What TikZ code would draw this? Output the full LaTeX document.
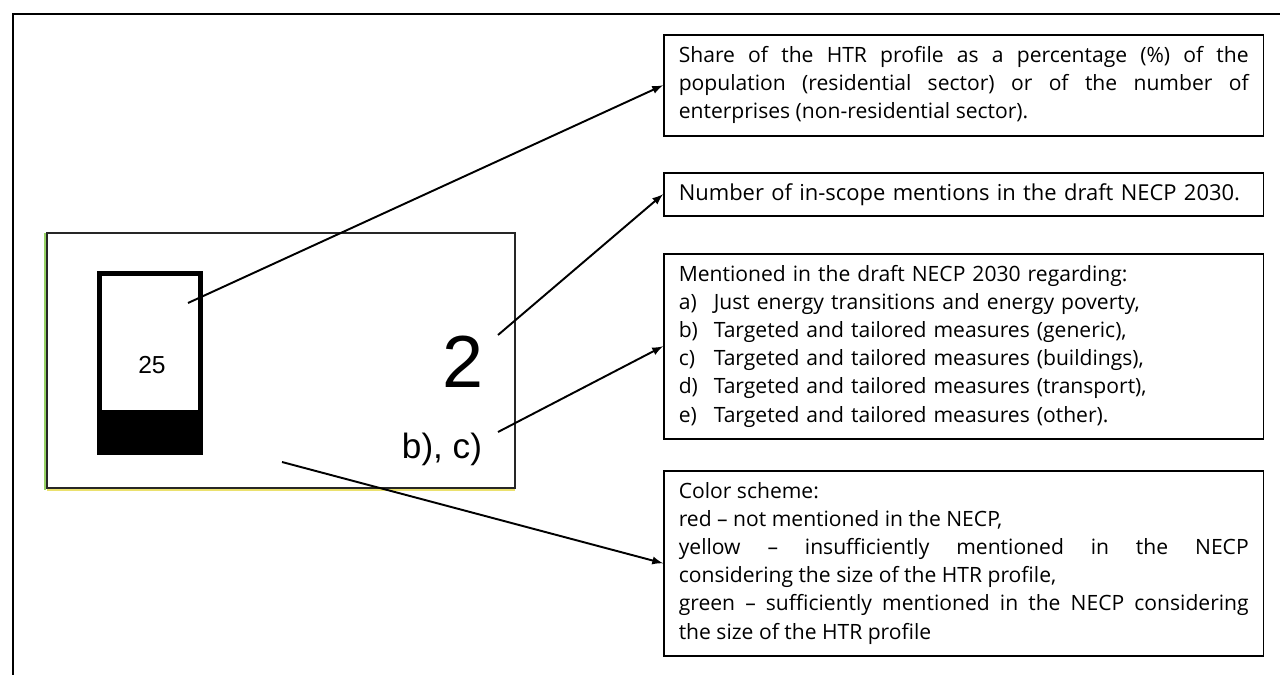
\documentclass[tikz,border=0pt]{standalone}
\usepackage{fontspec}
\setmainfont{Open Sans}
\newfontfamily\arialfont{Liberation Sans}
\setlength{\parindent}{0pt}
\definecolor{tilegreen}{RGB}{150,210,100}
\definecolor{tileyellow}{RGB}{235,225,110}

\begin{document}
\begin{tikzpicture}[x=0.02cm,y=-0.02cm,
  infobox/.style={draw,line width=0.9pt,anchor=north west,inner xsep=0.3cm,inner ysep=0pt,
    text width=11.4cm,font=\fontsize{12}{16}\selectfont},
  pointer/.style={->,>=latex,line width=1.1pt}]
\useasboundingbox (0,0) rectangle (1280,675);

% outer frame
\draw[line width=1.7pt] (1280,14) -- (13,14) -- (13,675);

% profile tile
\draw[tilegreen,line width=0.6pt] (45,233) -- (45,490);
\draw[tileyellow,line width=0.6pt] (47,490) -- (515,490);
\draw[line width=1.4pt,black!85] (47,233) rectangle (515,488);
\draw[line width=2.8pt] (99.5,273.5) rectangle (200.5,452.5);
\fill (97,410) rectangle (203,455);
\node (pct) at (152,365) {\arialfont\fontsize{14}{14}\selectfont 25};
\node (count) at (463,362) {\arialfont\fontsize{42}{42}\selectfont 2};
\node (cats) at (442,449) {\arialfont\fontsize{20}{20}\selectfont b), c)};

\coordinate (pctpt) at (188,303);
\coordinate (countpt) at (498,335);
\coordinate (catspt) at (498,432);
\coordinate (colpt) at (282,462);

% explanation boxes
\node[infobox,align=justify,minimum height=2.02cm] (sharebox) at (663,34)
  {Share of the HTR profile as a percentage (\%) of the\linebreak
   population (residential sector) or of the number of\linebreak
   enterprises (non-residential sector).};
\node[infobox,align=left,minimum height=0.86cm,font=\fontsize{12.5}{16}\selectfont] (countbox) at (663,172)
  {Number of in-scope mentions in the draft NECP 2030.};
\node[infobox,align=left,minimum height=3.7cm] (catsbox) at (663,253)
  {Mentioned in the draft NECP 2030 regarding:\\
   \makebox[0.7cm][l]{a)}Just energy transitions and energy poverty,\\
   \makebox[0.7cm][l]{b)}Targeted and tailored measures (generic),\\
   \makebox[0.7cm][l]{c)}Targeted and tailored measures (buildings),\\
   \makebox[0.7cm][l]{d)}Targeted and tailored measures (transport),\\
   \makebox[0.7cm][l]{e)}Targeted and tailored measures (other).};
\node[infobox,align=justify,minimum height=3.7cm] (colbox) at (663,470)
  {Color scheme:\\
   red – not mentioned in the NECP,\\
   yellow – insufficiently mentioned in the NECP\linebreak
   considering the size of the HTR profile,\\
   green – sufficiently mentioned in the NECP considering\linebreak
   the size of the HTR profile};

% pointers
\draw[pointer] (pctpt) -- (sharebox.west);
\draw[pointer] (countpt) -- (countbox.west);
\draw[pointer] (catspt) -- (catsbox.west);
\draw[pointer] (colpt) -- (colbox.west);
\end{tikzpicture}
\end{document}
